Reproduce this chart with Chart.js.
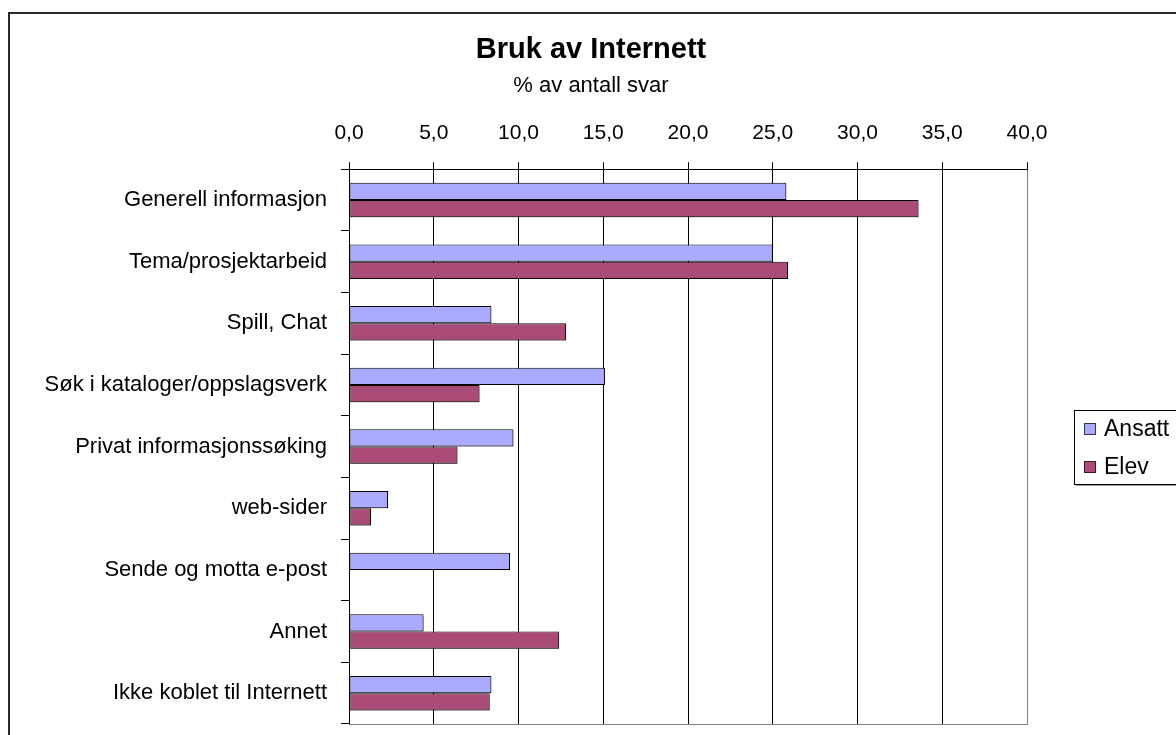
<!DOCTYPE html>
<html>
<head>
<meta charset="utf-8">
<script src="https://cdn.jsdelivr.net/npm/chart.js@4.4.1/dist/chart.umd.min.js"></script>
<style>
  html, body { margin: 0; padding: 0; background: #fff; overflow: hidden; width: 1176px; height: 735px; }
  #wrap { position: relative; width: 1176px; height: 735px; overflow: hidden; }
  #frame { position: absolute; left: 8px; top: 12px; width: 1300px; height: 900px;
           border-top: 2px solid #2a2a2a; border-left: 2px solid #2a2a2a; box-sizing: border-box; }
  canvas { position: absolute; left: 0; top: 0; }
</style>
</head>
<body>
<div id="wrap">
  <div id="frame"></div>
  <canvas id="c" width="1182" height="735"></canvas>
</div>
<script>
const titleText = 'Bruk av Internett';
const subtitleText = '% av antall svar';
const categories = [
  'Generell informasjon',
  'Tema/prosjektarbeid',
  'Spill, Chat',
  'Søk i kataloger/oppslagsverk',
  'Privat informasjonssøking',
  'web-sider',
  'Sende og motta e-post',
  'Annet',
  'Ikke koblet til Internett'
];
const seriesNames = ['Ansatt', 'Elev'];
const ansatt = [25.8, 25.0, 8.4, 15.1, 9.7, 2.3, 9.5, 4.4, 8.4];
const elev   = [33.6, 25.9, 12.8, 7.7, 6.4, 1.3, 0, 12.4, 8.3];
const axisMin = 0, axisMax = 40, axisStep = 5;

const FONT = "'Liberation Sans', Arial, Helvetica, sans-serif";
const colors = { ansatt: '#AAAAFF', elev: '#AA4A76' };

const barShadow = {
  id: 'barShadow',
  beforeDatasetsDraw(chart) {
    const ctx = chart.ctx;
    ctx.save();
    ctx.shadowColor = 'rgba(0,0,0,0.3)';
    ctx.shadowOffsetX = 1.5;
    ctx.shadowOffsetY = 1.5;
    ctx.shadowBlur = 0;
  },
  afterDatasetsDraw(chart) { chart.ctx.restore(); }
};

const plotBorder = {
  id: 'plotBorder',
  afterDatasetsDraw(chart) {
    const { ctx, chartArea: a } = chart;
    ctx.save();
    ctx.strokeStyle = '#808080';
    ctx.lineWidth = 1;
    ctx.beginPath();
    ctx.moveTo(a.left, Math.round(a.bottom) + 0.5);
    ctx.lineTo(a.right + 1, Math.round(a.bottom) + 0.5);
    ctx.stroke();
    ctx.restore();
  }
};

const boxLegend = {
  id: 'boxLegend',
  afterDraw(chart) {
    const { ctx, chartArea: a } = chart;
    const x0 = Math.round(a.right) + 47;
    const cy = (a.top + a.bottom) / 2;
    const top = Math.round(cy - 37);
    ctx.save();
    ctx.fillStyle = '#9a9a9a';
    ctx.fillRect(x0 + 2, top + 74, 200, 2);
    ctx.fillStyle = '#fff';
    ctx.fillRect(x0, top, 200, 74);
    ctx.strokeStyle = '#000';
    ctx.lineWidth = 1;
    ctx.strokeRect(x0 + 0.5, top + 0.5, 200, 74);
    chart.data.datasets.forEach((ds, i) => {
      const yc = Math.round(cy - 18 + i * 38);
      ctx.fillStyle = ds.backgroundColor;
      ctx.fillRect(x0 + 10, yc - 6, 12, 12);
      ctx.strokeStyle = ds.legendBorder;
      ctx.strokeRect(x0 + 10.5, yc - 5.5, 11, 11);
      ctx.fillStyle = '#000';
      ctx.font = '23px ' + FONT;
      ctx.textBaseline = 'middle';
      ctx.textAlign = 'left';
      ctx.fillText(ds.label, x0 + 30, yc + 1);
    });
    ctx.restore();
  }
};

new Chart(document.getElementById('c'), {
  type: 'bar',
  data: {
    labels: categories,
    datasets: [
      { label: seriesNames[0], data: ansatt, backgroundColor: colors.ansatt,
        borderColor: '#000000', legendBorder: '#33335a', borderWidth: 1, borderSkipped: false },
      { label: seriesNames[1], data: elev, backgroundColor: colors.elev,
        borderColor: '#000000', legendBorder: '#4a1030', borderWidth: 1, borderSkipped: false }
    ]
  },
  options: {
    indexAxis: 'y',
    responsive: false,
    animation: false,
    devicePixelRatio: 1,
    layout: { padding: { left: 0, right: 0, top: 0, bottom: 11 } },
    datasets: { bar: { categoryPercentage: 0.56, barPercentage: 1.0 } },
    plugins: {
      legend: { display: false },
      tooltip: { enabled: false },
      title: {
        display: true, text: titleText, color: '#000',
        font: { family: FONT, size: 29, weight: 'bold' },
        padding: { top: 33, bottom: 0 }
      },
      subtitle: {
        display: true, text: subtitleText, color: '#000',
        font: { family: FONT, size: 22 },
        padding: { top: 5, bottom: 0 }
      }
    },
    scales: {
      x: {
        position: 'top',
        min: axisMin, max: axisMax,
        ticks: {
          stepSize: axisStep, color: '#000', padding: 16,
          font: { family: FONT, size: 21 },
          callback: v => Number(v).toFixed(1).replace('.', ',')
        },
        grid: {
          color: ctx => (ctx.tick && ctx.tick.value === axisMax) ? '#808080' : '#000',
          lineWidth: 1, drawTicks: true, tickLength: 7, tickColor: '#000'
        },
        border: { display: true, color: '#000', width: 1 },
        afterFit(scale) { scale.height = 70; scale.paddingRight = 155; scale.paddingLeft = 0; }
      },
      y: {
        ticks: { color: '#000', padding: 14, font: { family: FONT, size: 22 } },
        grid: { drawOnChartArea: false, drawTicks: true, tickLength: 8, color: '#000', offset: true },
        border: { display: true, color: '#000', width: 1 },
        afterFit(scale) { scale.width = 349; scale.paddingTop = 0; scale.paddingBottom = 0; }
      }
    }
  },
  plugins: [barShadow, plotBorder, boxLegend]
});
</script>
</body>
</html>
